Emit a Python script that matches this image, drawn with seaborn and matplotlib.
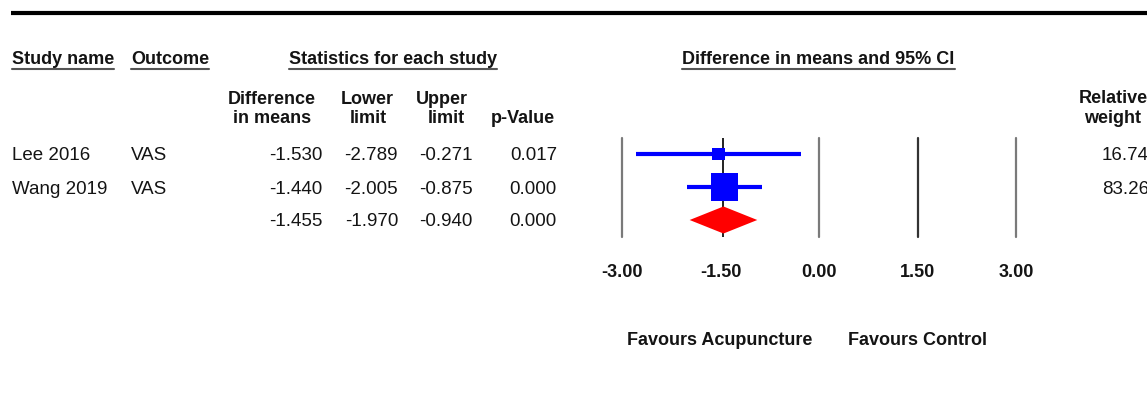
import numpy as np
import pandas as pd
import matplotlib
matplotlib.use("Agg")
import matplotlib.pyplot as plt
from matplotlib.lines import Line2D
import seaborn as sns

# ---- study data -------------------------------------------------------
studies = ["Lee 2016", "Wang 2019"]
outcomes = ["VAS", "VAS"]
diff_means = [-1.530, -1.440]
lower_limits = [-2.789, -2.005]
upper_limits = [-0.271, -0.875]
p_values = [0.017, 0.000]
rel_weights = [16.74, 83.26]

pooled_diff = -1.455
pooled_lower = -1.970
pooled_upper = -0.940
pooled_p = 0.000

tick_values = [-3.00, -1.50, 0.00, 1.50, 3.00]
ref_lines = [-3.00, 0.00, 1.50, 3.00]
ref_colors = ["#7a7a7a", "#7a7a7a", "#333333", "#7a7a7a"]

# ---- style -------------------------------------------------------------
sns.set_theme(style="white")
plt.rcParams["font.family"] = ["Liberation Sans", "DejaVu Sans"]

W, H = 1147, 394
fig = plt.figure(figsize=(W / 100, H / 100), dpi=100)
fig.patch.set_facecolor("white")

TXT = "#141414"
FS = 13.5      # regular text
FSB = 13.0     # bold text


def fx(x):
    return x / W


def fy(y):
    return 1 - y / H


def put(x, y, s, ha="left", bold=False, **kw):
    return fig.text(fx(x), fy(y), s, ha=ha, va="baseline", color=TXT,
                    fontsize=FSB if bold else FS,
                    fontweight="bold" if bold else "normal", **kw)


# heavy rule across the top
fig.add_artist(Line2D([fx(11), fx(W + 5)], [fy(13), fy(13)], color="black",
                      lw=3.0, solid_capstyle="butt"))

# ---- forest panel ------------------------------------------------------
x_left, x_right = 622, 1016      # pixel span of -3 .. 3
y_top, y_bot = 138, 237
ax = fig.add_axes([fx(x_left), fy(y_bot), (x_right - x_left) / W, (y_bot - y_top) / H])
ax.set_xlim(-3, 3)
row_px = 33
ax.set_ylim(2 + (y_bot - 220) / row_px, -(154 - y_top) / row_px)
for s in ax.spines.values():
    s.set_visible(False)
ax.set_facecolor("none")
ax.set_yticks([])
ax.set_xticks(tick_values)
ax.set_xticklabels([f"{t:.2f}" for t in tick_values], fontsize=FSB,
                   fontweight="bold", color=TXT)
ax.tick_params(axis="x", length=0, pad=19.5)
ax.grid(False)

for xv, c in zip(ref_lines, ref_colors):
    ax.axvline(xv, color=c, lw=1.6, zorder=1, clip_on=False)
ax.axvline(pooled_diff, color="#222222", lw=1.4, zorder=1)

df = pd.DataFrame({"study": studies, "diff": diff_means, "lo": lower_limits,
                   "hi": upper_limits, "weight": rel_weights,
                   "row": np.arange(len(studies))})

ax.hlines(df["row"], df["lo"], df["hi"], color="#0000ff", lw=3.0, zorder=2)
sns.scatterplot(data=df, x="diff", y="row", size="weight", sizes=(0, 454),
                size_norm=(0, 100), marker="s", color="#0000ff", linewidth=0,
                legend=False, ax=ax, zorder=3)
ax.set_xlabel("")
ax.set_ylabel("")

pooled_row = len(studies)
half_h = 0.41
ax.fill([pooled_lower, pooled_diff, pooled_upper, pooled_diff],
        [pooled_row, pooled_row - half_h, pooled_row, pooled_row + half_h],
        color="#ff0000", lw=0, zorder=3)

# ---- headers -----------------------------------------------------------
header_items = [
    (12, "Study name", "left"),
    (131, "Outcome", "left"),
    (393, "Statistics for each study", "center"),
    (818.5, "Difference in means and 95% CI", "center"),
]
header_texts = [put(x, 64, s, ha=ha, bold=True) for x, s, ha in header_items]

put(272, 104, "Difference", ha="center", bold=True)
put(272, 123, "in means", ha="center", bold=True)
put(367, 104, "Lower", ha="center", bold=True)
put(368, 123, "limit", ha="center", bold=True)
put(442, 104, "Upper", ha="center", bold=True)
put(446, 123, "limit", ha="center", bold=True)
put(523, 123, "p-Value", ha="center", bold=True)
put(1113, 103, "Relative", ha="center", bold=True)
put(1113, 123, "weight", ha="center", bold=True)

# underline the group headers
fig.canvas.draw()
renderer = fig.canvas.get_renderer()
for t in header_texts:
    bb = t.get_window_extent(renderer)
    fig.add_artist(Line2D([bb.x0 / W, bb.x1 / W], [fy(69), fy(69)],
                          color="#555555", lw=1.5))

# ---- table rows --------------------------------------------------------
row_y = [154 + row_px * i for i in range(len(studies) + 1)]
for i in range(len(studies)):
    yb = row_y[i] + 6.5
    put(12, yb, studies[i])
    put(131, yb, outcomes[i])
    put(322, yb, f"{diff_means[i]:.3f}", ha="right")
    put(398, yb, f"{lower_limits[i]:.3f}", ha="right")
    put(473, yb, f"{upper_limits[i]:.3f}", ha="right")
    put(557, yb, f"{p_values[i]:.3f}", ha="right")
    put(1102, yb, f"{rel_weights[i]:.2f}", ha="left")

yb = row_y[-1] + 6.5
put(322, yb, f"{pooled_diff:.3f}", ha="right")
put(398, yb, f"{pooled_lower:.3f}", ha="right")
put(473, yb, f"{pooled_upper:.3f}", ha="right")
put(557, yb, f"{pooled_p:.3f}", ha="right")

# ---- direction labels --------------------------------------------------
put(720, 345, "Favours Acupuncture", ha="center", bold=True)
put(917, 345, "Favours Control", ha="center", bold=True)

fig.savefig("out.png", dpi=100, facecolor="white")
